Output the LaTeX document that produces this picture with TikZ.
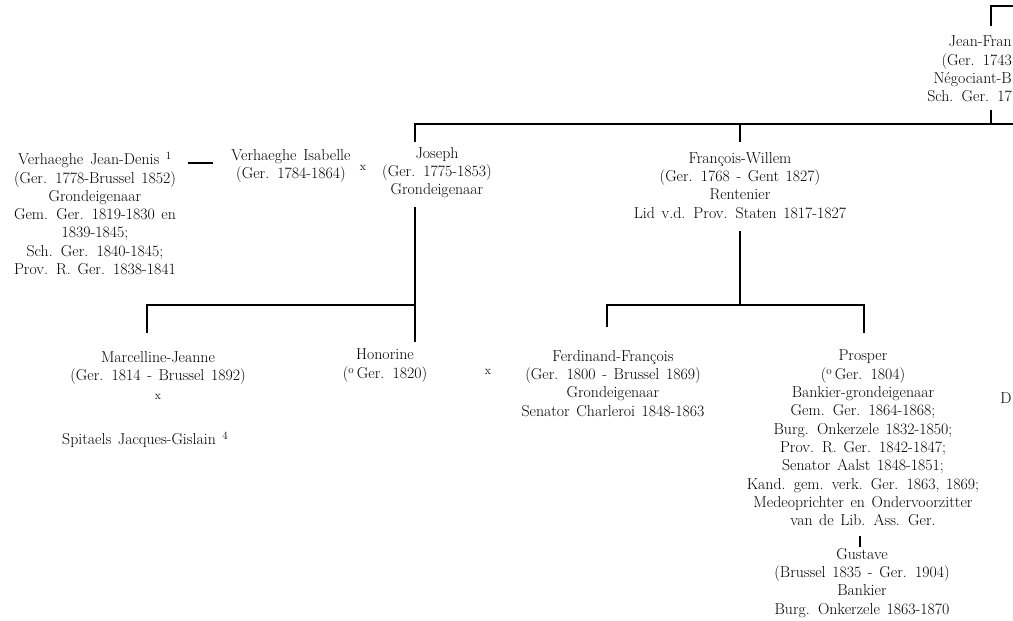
\documentclass[tikz,border=0pt]{standalone}
\usepackage{tikz}
\usetikzlibrary{positioning}
\newcommand{\famfont}{\fontsize{15.8}{18.3}\selectfont\spaceskip=0.42em plus 0.1em minus 0.05em\relax}

\begin{document}
\begin{tikzpicture}[x=1pt,y=-1pt,
    person/.style={align=center,inner sep=0pt,anchor=north,font=\famfont},
    wed/.style={inner sep=0pt,font=\fontsize{12}{12}\selectfont},
    link/.style={line width=1.5pt}]
  \useasboundingbox (0,0) rectangle (1013,621);
  \clip (0,0) rectangle (1013,621);
  % generation 1, at the right edge
  \node[person,align=right,anchor=north east] (jeanfr) at (1012,36) {Jean-Fran\\(Ger. 1743\\N\'egociant-B\\Sch. Ger. 17};
  \coordinate (edge) at (1013,6);
  \coordinate (jf-up) at (991,26);
  \coordinate (jf-down) at (991,110);
  \coordinate (bar) at (1013,124);
  \draw[link] (edge) -| (jf-up);
  \draw[link] (jf-down) -- (jf-down |- bar);
  % generation 2
  \node[person] (jeandenis) at (95,152) {Verhaeghe Jean-Denis \textsuperscript{1}\\(Ger. 1778-Brussel 1852)\\Grondeigenaar\\Gem. Ger. 1819-1830 en\\1839-1845;\\Sch. Ger. 1840-1845;\\Prov. R. Ger. 1838-1841};
  \node[person] (isabelle) at (291,149) {Verhaeghe Isabelle\\(Ger. 1784-1864)};
  \node[wed] (x1) at (363,168) {x};
  \node[person] (joseph) at (437,147) {Joseph\\(Ger. 1775-1853)\\Grondeigenaar};
  \node[person] (fw) at (740,152) {Fran\c{c}ois-Willem\\(Ger. 1768 - Gent 1827)\\Rentenier\\Lid v.d. Prov. Staten 1817-1827};
  \coordinate (jd-m) at (188,163);
  \coordinate (is-m) at (213,163);
  \draw[link] (jd-m) -- (is-m);
  \coordinate (jos-up) at (415,142);
  \coordinate (fw-up) at (740,142);
  \draw[link] (jos-up) |- (bar);
  \draw[link] (fw-up) -- (fw-up |- bar);
  % generation 3
  \node[person] (marcelline) at (158,351) {Marcelline-Jeanne\\(Ger. 1814 - Brussel 1892)};
  \node[wed] (x2) at (158,397) {x};
  \node[person,anchor=north west] (spitaels) at (62,432) {Spitaels Jacques-Gislain \textsuperscript{4}};
  \node[person] (honorine) at (385,349) {Honorine\\(\textsuperscript{o}\,Ger. 1820)};
  \node[wed] (x3) at (488,372) {x};
  \node[person] (ferdinand) at (613,350) {Ferdinand-Fran\c{c}ois\\(Ger. 1800 - Brussel 1869)\\Grondeigenaar\\Senator Charleroi 1848-1863};
  \node[person] (prosper) at (863,350) {Prosper\\(\textsuperscript{o}\,Ger. 1804)\\Bankier-grondeigenaar\\Gem. Ger. 1864-1868;\\Burg. Onkerzele 1832-1850;\\Prov. R. Ger. 1842-1847;\\Senator Aalst 1848-1851;\\Kand. gem. verk. Ger. 1863, 1869;\\Medeoprichter en Ondervoorzitter\\van de Lib. Ass. Ger.};
  \node[person,anchor=center] (dd) at (1006,398) {D};
  \coordinate (jos-down) at (415,207);
  \coordinate (jbar) at (415,305);
  \coordinate (hon-up) at (415,342);
  \coordinate (marc-up) at (147,333);
  \draw[link] (jos-down) -- (hon-up);
  \draw[link] (marc-up) |- (jbar);
  \coordinate (fw-down) at (740,231);
  \coordinate (fbar) at (740,305);
  \coordinate (ferd-up) at (607,327);
  \coordinate (pros-up) at (864,333);
  \draw[link] (fw-down) -- (fbar);
  \draw[link] (ferd-up) |- (pros-up |- fbar) -- (pros-up);
  % generation 4
  \node[person] (gustave) at (862,548) {Gustave\\(Brussel 1835 - Ger. 1904)\\Bankier\\Burg. Onkerzele 1863-1870};
  \coordinate (gus-up) at (860,536);
  \coordinate (gus-down) at (860,547);
  \draw[link] (gus-up) -- (gus-down);
\end{tikzpicture}
\end{document}
